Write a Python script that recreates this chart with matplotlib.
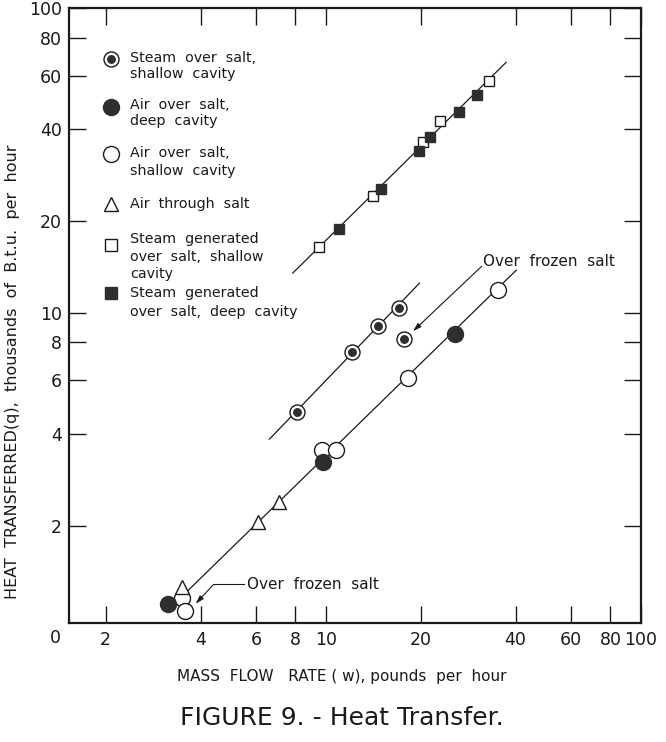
import matplotlib
matplotlib.use('Agg')
import matplotlib.pyplot as plt
from matplotlib.ticker import NullLocator, FixedLocator

plt.rcParams['font.family'] = ['DejaVu Sans']

# ---------------- data ----------------
steam_shallow_w = [8.1, 12.1, 14.6, 17.0]
steam_shallow_q = [4.73, 7.46, 9.06, 10.36]
steam_frozen_w = [17.7]
steam_frozen_q = [8.19]

air_deep_w = [3.16, 9.78, 25.6]
air_deep_q = [1.11, 3.24, 8.51]

air_shallow_w = [3.49, 3.56, 9.69, 10.8, 18.2, 35.1]
air_shallow_q = [1.16, 1.05, 3.56, 3.56, 6.10, 11.9]

air_through_w = [3.49, 6.08, 7.09]
air_through_q = [1.26, 2.06, 2.40]

gen_shallow_w = [9.5, 14.1, 20.4, 23.1, 33.0]
gen_shallow_q = [16.5, 24.1, 36.3, 42.6, 57.5]

gen_deep_w = [11.0, 15.0, 19.7, 21.4, 26.4, 30.1]
gen_deep_q = [18.8, 25.5, 34.0, 37.7, 45.6, 51.9]

# fitted lines (end points)
line_gen_w = [7.85, 37.3]
line_gen_q = [13.5, 66.3]
line_steam_w = [6.62, 19.8]
line_steam_q = [3.85, 12.5]
line_air_w = [3.66, 40.2]
line_air_q = [1.23, 13.8]

x_ticks = [2, 4, 6, 8, 10, 20, 40, 60, 80, 100]
y_ticks = [2, 4, 6, 8, 10, 20, 40, 60, 80, 100]

legend_labels = [["Steam  over  salt,", "shallow  cavity"],
                 ["Air  over  salt,", "deep  cavity"],
                 ["Air  over  salt,", "shallow  cavity"],
                 ["Air  through  salt"],
                 ["Steam  generated", "over  salt,  shallow", "cavity"],
                 ["Steam  generated", "over  salt,  deep  cavity"]]

# ---------------- figure ----------------
W, H = 666, 742
fig = plt.figure(figsize=(W / 100, H / 100), dpi=100)
L, R, T, B = 69, 641, 8, 623
ax = fig.add_axes([L / W, 1 - B / H, (R - L) / W, (B - T) / H])

ax.set_xscale('log')
ax.set_yscale('log')
ax.set_xlim(1.53, 100)
ax.set_ylim(0.96, 100)

ink = '#1a1a1a'
fill = '#2e2e2e'

# lines
ax.plot(line_gen_w, line_gen_q, color=ink, lw=0.9, zorder=2)
ax.plot(line_steam_w, line_steam_q, color=ink, lw=0.9, zorder=2)
ax.plot(line_air_w, line_air_q, color=ink, lw=0.9, zorder=2)

# markers
def dotted(xs, ys, ms=10.8, z=4):
    ax.plot(xs, ys, 'o', ms=ms, mfc='white', mec=ink, mew=1.0, ls='none', zorder=z)
    ax.plot(xs, ys, 'o', ms=ms * 0.5, mfc=fill, mec=fill, ls='none', zorder=z + 0.1)

dotted(steam_shallow_w, steam_shallow_q)
dotted(steam_frozen_w, steam_frozen_q)
ax.plot(air_shallow_w, air_shallow_q, 'o', ms=11.5, mfc='white', mec=ink, mew=1.0,
        ls='none', zorder=3)
ax.plot(air_deep_w, air_deep_q, 'o', ms=11.5, mfc=fill, mec=fill, mew=1.0,
        ls='none', zorder=4)
ax.plot(air_through_w, air_through_q, '^', ms=9.5, mfc='white', mec=ink, mew=1.0,
        ls='none', zorder=5)
ax.plot(gen_shallow_w, gen_shallow_q, 's', ms=7.5, mfc='white', mec=ink, mew=1.0,
        ls='none', zorder=4)
ax.plot(gen_deep_w, gen_deep_q, 's', ms=7.5, mfc=fill, mec=fill, mew=1.0,
        ls='none', zorder=4)

# annotations
ax.text(31.5, 14.7, 'Over  frozen  salt', fontsize=11, ha='left', va='center',
        color=ink)
ax.annotate('', xy=(18.9, 8.7), xytext=(31.2, 14.2),
            arrowprops=dict(arrowstyle='-|>,head_length=0.5,head_width=0.15',
                            color=ink, lw=0.8, shrinkA=0, shrinkB=0))
ax.text(5.61, 1.285, 'Over  frozen  salt', fontsize=11, ha='left', va='center',
        color=ink)
ax.plot([4.40, 5.50], [1.285, 1.285], color=ink, lw=0.8)
ax.annotate('', xy=(3.86, 1.11), xytext=(4.40, 1.285),
            arrowprops=dict(arrowstyle='-|>,head_length=0.5,head_width=0.15',
                            color=ink, lw=0.8, shrinkA=0, shrinkB=0))

# ticks
ax.xaxis.set_major_locator(FixedLocator(x_ticks))
ax.yaxis.set_major_locator(FixedLocator(y_ticks))
ax.xaxis.set_minor_locator(NullLocator())
ax.yaxis.set_minor_locator(NullLocator())
ax.set_xticklabels([str(v) for v in x_ticks])
ax.set_yticklabels([str(v) for v in y_ticks])
ax.tick_params(which='major', direction='in', length=12, width=1.0, color=ink,
               top=True, right=True, labelsize=12.5, labelcolor=ink)
ax.tick_params(axis='x', pad=6)
ax.tick_params(axis='y', pad=5)
for s in ax.spines.values():
    s.set_linewidth(1.6)
    s.set_color(ink)

fig.text(55 / W, 1 - 638 / H, '0', fontsize=12.5, ha='center', va='center', color=ink)

# legend (manual layout)
def axf(px, py):
    return ((px - L) / (R - L), (B - py) / (B - T))

marker_y = [59, 107, 154, 204, 245, 293]
text_y = [[58, 74], [105, 121], [153, 171], [204], [239, 257, 274], [293, 312]]
mx = 111
tx = 130
for i, (my, lines, tys) in enumerate(zip(marker_y, legend_labels, text_y)):
    px, py = axf(mx, my)
    if i == 0:
        ax.plot([px], [py], 'o', ms=10.8, mfc='white', mec=ink, mew=1.0,
                transform=ax.transAxes, clip_on=False)
        ax.plot([px], [py], 'o', ms=5.4, mfc=fill, mec=fill,
                transform=ax.transAxes, clip_on=False)
    elif i == 1:
        ax.plot([px], [py], 'o', ms=11.5, mfc=fill, mec=fill,
                transform=ax.transAxes)
    elif i == 2:
        ax.plot([px], [py], 'o', ms=11.5, mfc='white', mec=ink, mew=1.0,
                transform=ax.transAxes)
    elif i == 3:
        ax.plot([px], [py], '^', ms=10, mfc='white', mec=ink, mew=1.0,
                transform=ax.transAxes)
    elif i == 4:
        ax.plot([px], [py], 's', ms=8.5, mfc='white', mec=ink, mew=1.0,
                transform=ax.transAxes)
    else:
        ax.plot([px], [py], 's', ms=8.5, mfc=fill, mec=fill,
                transform=ax.transAxes)
    for line, ty in zip(lines, tys):
        qx, qy = axf(tx, ty)
        ax.text(qx, qy, line, transform=ax.transAxes, fontsize=10.3,
                ha='left', va='center', color=ink)

# axis labels & caption
fig.text(13 / W, 1 - 372 / H, 'HEAT  TRANSFERRED(q),  thousands  of  B.t.u.  per  hour',
         rotation=90, fontsize=11.5, ha='center', va='center', color=ink)
fig.text(342 / W, 1 - 677 / H, 'MASS  FLOW   RATE ( w), pounds  per  hour',
         fontsize=11, ha='center', va='center', color=ink)
fig.text(342 / W, 1 - 718 / H, 'FIGURE 9. - Heat Transfer.',
         fontsize=18, ha='center', va='center', color=ink)

fig.savefig('out.png', dpi=100)
